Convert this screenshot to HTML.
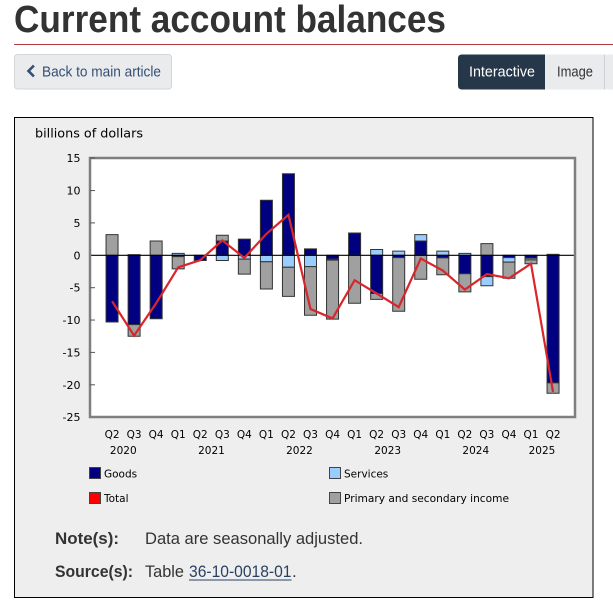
<!DOCTYPE html>
<html>
<head>
<meta charset="utf-8">
<style>
  html,body{margin:0;padding:0;background:#fff;width:613px;height:614px;overflow:hidden;}
  svg{display:block;}
</style>
</head>
<body>
<svg width="613" height="614" viewBox="0 0 613 614" xmlns="http://www.w3.org/2000/svg">
  <rect x="0" y="0" width="613" height="614" fill="#ffffff"/>

  <!-- Title -->
  <text x="14" y="32" font-family="Liberation Sans, sans-serif" font-weight="bold" font-size="38" fill="#333333" textLength="432" lengthAdjust="spacingAndGlyphs">Current account balances</text>
  <line x1="14" y1="44.5" x2="613" y2="44.5" stroke="#af3c43" stroke-width="1"/>

  <!-- Back button -->
  <rect x="14.5" y="54.5" width="157" height="34.5" rx="3" ry="3" fill="#eaebed" stroke="#d4d6d9" stroke-width="1"/>
  <polyline points="33,66.5 28.5,71 33,75.5" fill="none" stroke="#335075" stroke-width="2.6" stroke-linecap="square"/>
  <text x="42" y="76.5" font-family="Liberation Sans, sans-serif" font-size="15" fill="#335075" textLength="119" lengthAdjust="spacingAndGlyphs">Back to main article</text>

  <!-- Interactive / Image buttons -->
  <path d="M462,54.5 H545 V89.5 H462 Q458,89.5 458,85.5 V58.5 Q458,54.5 462,54.5 Z" fill="#26374a"/>
  <text x="469" y="76.5" font-family="Liberation Sans, sans-serif" font-size="15" fill="#ffffff" textLength="66" lengthAdjust="spacingAndGlyphs">Interactive</text>
  <rect x="545" y="54.5" width="59.5" height="35" fill="#eaebed"/>
  <text x="557" y="76.5" font-family="Liberation Sans, sans-serif" font-size="15" fill="#333333" textLength="36" lengthAdjust="spacingAndGlyphs">Image</text>
  <line x1="604.5" y1="54.5" x2="604.5" y2="89.5" stroke="#cfd1d4" stroke-width="1"/>
  <rect x="605" y="54.5" width="8" height="35" fill="#eaebed"/>

  <!-- Chart box -->
  <rect x="14.5" y="117.5" width="578.5" height="480" fill="#eeeeee" stroke="#000000" stroke-width="1"/>

  <text x="35" y="137.5" font-family="DejaVu Sans, Verdana, sans-serif" font-size="12.8" fill="#000" textLength="108" lengthAdjust="spacingAndGlyphs">billions of dollars</text>

  <!-- Plot area -->
  <rect x="90" y="158" width="485" height="259" fill="#ffffff"/>

  <!-- Bars: data coordinates -->
  <g transform="translate(0,255.3) scale(1,-6.475)" stroke="#333333" stroke-width="1">
    <!-- 0 Q2 2020 -->
    <rect x="106.05" y="-10.3" width="12" height="10.3" fill="#000080" vector-effect="non-scaling-stroke"/>
    <rect x="106.05" y="0" width="12" height="3.2" fill="#a0a0a0" vector-effect="non-scaling-stroke"/>
    <!-- 1 Q3 2020 -->
    <rect x="128.1" y="-10.7" width="12" height="10.7" fill="#000080" vector-effect="non-scaling-stroke"/>
    <rect x="128.1" y="0" width="12" height="0.1" fill="#99ccff" vector-effect="non-scaling-stroke"/>
    <rect x="128.1" y="-12.5" width="12" height="1.8" fill="#a0a0a0" vector-effect="non-scaling-stroke"/>
    <!-- 2 Q4 2020 -->
    <rect x="150.15" y="-9.8" width="12" height="9.8" fill="#000080" vector-effect="non-scaling-stroke"/>
    <rect x="150.15" y="0" width="12" height="2.2" fill="#a0a0a0" vector-effect="non-scaling-stroke"/>
    <!-- 3 Q1 2021 -->
    <rect x="172.2" y="-0.2" width="12" height="0.2" fill="#000080" vector-effect="non-scaling-stroke"/>
    <rect x="172.2" y="0" width="12" height="0.3" fill="#99ccff" vector-effect="non-scaling-stroke"/>
    <rect x="172.2" y="-2.1" width="12" height="1.9" fill="#a0a0a0" vector-effect="non-scaling-stroke"/>
    <!-- 4 Q2 2021 -->
    <rect x="194.25" y="-0.8" width="12" height="0.8" fill="#000080" vector-effect="non-scaling-stroke"/>
    <!-- 5 Q3 2021 -->
    <rect x="216.3" y="0" width="12" height="2.2" fill="#000080" vector-effect="non-scaling-stroke"/>
    <rect x="216.3" y="-0.8" width="12" height="0.8" fill="#99ccff" vector-effect="non-scaling-stroke"/>
    <rect x="216.3" y="2.2" width="12" height="0.9" fill="#a0a0a0" vector-effect="non-scaling-stroke"/>
    <!-- 6 Q4 2021 -->
    <rect x="238.35" y="0" width="12" height="2.5" fill="#000080" vector-effect="non-scaling-stroke"/>
    <rect x="238.35" y="-0.6" width="12" height="0.6" fill="#99ccff" vector-effect="non-scaling-stroke"/>
    <rect x="238.35" y="-2.9" width="12" height="2.3" fill="#a0a0a0" vector-effect="non-scaling-stroke"/>
    <!-- 7 Q1 2022 -->
    <rect x="260.4" y="0" width="12" height="8.5" fill="#000080" vector-effect="non-scaling-stroke"/>
    <rect x="260.4" y="-1" width="12" height="1" fill="#99ccff" vector-effect="non-scaling-stroke"/>
    <rect x="260.4" y="-5.2" width="12" height="4.2" fill="#a0a0a0" vector-effect="non-scaling-stroke"/>
    <!-- 8 Q2 2022 -->
    <rect x="282.45" y="0" width="12" height="12.6" fill="#000080" vector-effect="non-scaling-stroke"/>
    <rect x="282.45" y="-1.85" width="12" height="1.85" fill="#99ccff" vector-effect="non-scaling-stroke"/>
    <rect x="282.45" y="-6.35" width="12" height="4.5" fill="#a0a0a0" vector-effect="non-scaling-stroke"/>
    <!-- 9 Q3 2022 -->
    <rect x="304.5" y="0" width="12" height="1" fill="#000080" vector-effect="non-scaling-stroke"/>
    <rect x="304.5" y="-1.75" width="12" height="1.75" fill="#99ccff" vector-effect="non-scaling-stroke"/>
    <rect x="304.5" y="-9.25" width="12" height="7.5" fill="#a0a0a0" vector-effect="non-scaling-stroke"/>
    <!-- 10 Q4 2022 -->
    <rect x="326.55" y="-0.6" width="12" height="0.6" fill="#000080" vector-effect="non-scaling-stroke"/>
    <rect x="326.55" y="-0.75" width="12" height="0.15" fill="#99ccff" vector-effect="non-scaling-stroke"/>
    <rect x="326.55" y="-9.85" width="12" height="9.1" fill="#a0a0a0" vector-effect="non-scaling-stroke"/>
    <!-- 11 Q1 2023 -->
    <rect x="348.6" y="0" width="12" height="3.45" fill="#000080" vector-effect="non-scaling-stroke"/>
    <rect x="348.6" y="-7.4" width="12" height="7.4" fill="#a0a0a0" vector-effect="non-scaling-stroke"/>
    <!-- 12 Q2 2023 -->
    <rect x="370.65" y="-5.9" width="12" height="5.9" fill="#000080" vector-effect="non-scaling-stroke"/>
    <rect x="370.65" y="0" width="12" height="0.9" fill="#99ccff" vector-effect="non-scaling-stroke"/>
    <rect x="370.65" y="-6.8" width="12" height="0.9" fill="#a0a0a0" vector-effect="non-scaling-stroke"/>
    <!-- 13 Q3 2023 -->
    <rect x="392.7" y="-0.35" width="12" height="0.35" fill="#000080" vector-effect="non-scaling-stroke"/>
    <rect x="392.7" y="0" width="12" height="0.65" fill="#99ccff" vector-effect="non-scaling-stroke"/>
    <rect x="392.7" y="-8.65" width="12" height="8.3" fill="#a0a0a0" vector-effect="non-scaling-stroke"/>
    <!-- 14 Q4 2023 -->
    <rect x="414.75" y="0" width="12" height="2.2" fill="#000080" vector-effect="non-scaling-stroke"/>
    <rect x="414.75" y="2.2" width="12" height="1" fill="#99ccff" vector-effect="non-scaling-stroke"/>
    <rect x="414.75" y="-3.7" width="12" height="3.7" fill="#a0a0a0" vector-effect="non-scaling-stroke"/>
    <!-- 15 Q1 2024 -->
    <rect x="436.8" y="-0.4" width="12" height="0.4" fill="#000080" vector-effect="non-scaling-stroke"/>
    <rect x="436.8" y="0" width="12" height="0.65" fill="#99ccff" vector-effect="non-scaling-stroke"/>
    <rect x="436.8" y="-3.0" width="12" height="2.6" fill="#a0a0a0" vector-effect="non-scaling-stroke"/>
    <!-- 16 Q2 2024 -->
    <rect x="458.85" y="-2.85" width="12" height="2.85" fill="#000080" vector-effect="non-scaling-stroke"/>
    <rect x="458.85" y="0" width="12" height="0.3" fill="#99ccff" vector-effect="non-scaling-stroke"/>
    <rect x="458.85" y="-5.65" width="12" height="2.8" fill="#a0a0a0" vector-effect="non-scaling-stroke"/>
    <!-- 17 Q3 2024 -->
    <rect x="480.9" y="-3.3" width="12" height="3.3" fill="#000080" vector-effect="non-scaling-stroke"/>
    <rect x="480.9" y="-4.7" width="12" height="1.4" fill="#99ccff" vector-effect="non-scaling-stroke"/>
    <rect x="480.9" y="0" width="12" height="1.8" fill="#a0a0a0" vector-effect="non-scaling-stroke"/>
    <!-- 18 Q4 2024 -->
    <rect x="502.95" y="-0.35" width="12" height="0.35" fill="#000080" vector-effect="non-scaling-stroke"/>
    <rect x="502.95" y="-1.05" width="12" height="0.7" fill="#99ccff" vector-effect="non-scaling-stroke"/>
    <rect x="502.95" y="-3.55" width="12" height="2.5" fill="#a0a0a0" vector-effect="non-scaling-stroke"/>
    <!-- 19 Q1 2025 -->
    <rect x="525" y="-0.45" width="12" height="0.45" fill="#000080" vector-effect="non-scaling-stroke"/>
    <rect x="525" y="-0.7" width="12" height="0.25" fill="#99ccff" vector-effect="non-scaling-stroke"/>
    <rect x="525" y="-1.3" width="12" height="0.6" fill="#a0a0a0" vector-effect="non-scaling-stroke"/>
    <!-- 20 Q2 2025 -->
    <rect x="547.05" y="-19.7" width="12" height="19.7" fill="#000080" vector-effect="non-scaling-stroke"/>
    <rect x="547.05" y="0" width="12" height="0.15" fill="#99ccff" vector-effect="non-scaling-stroke"/>
    <rect x="547.05" y="-21.3" width="12" height="1.6" fill="#a0a0a0" vector-effect="non-scaling-stroke"/>
  </g>

  <!-- Zero line -->
  <line x1="90" y1="255.3" x2="575" y2="255.3" stroke="#000000" stroke-width="1.2"/>

  <!-- Total line -->
  <g transform="translate(0,255.3) scale(1,-6.475)">
    <polyline fill="none" stroke="#d9252c" stroke-width="2.2" stroke-linejoin="miter" vector-effect="non-scaling-stroke"
      points="112.05,-7.1 134.1,-12.4 156.15,-7.4 178.2,-1.85 200.25,-0.75 222.3,2.3 244.35,-0.4 266.4,3.3 288.45,6.25 310.5,-8.3 332.55,-9.75 354.6,-3.85 376.65,-5.9 398.7,-8.0 420.75,-0.5 442.8,-2.35 464.85,-5.3 486.9,-2.9 508.95,-3.55 531,-1.3 553.05,-21.1"/>
  </g>

  <!-- Plot border -->
  <rect x="90" y="158" width="485" height="259" fill="none" stroke="#7f7f7f" stroke-width="2.5"/>

  <!-- Y ticks -->
  <g stroke="#555555" stroke-width="1">
    <line x1="90" y1="158" x2="95" y2="158"/>
    <line x1="90" y1="190.55" x2="95" y2="190.55"/>
    <line x1="90" y1="222.9" x2="95" y2="222.9"/>
    <line x1="90" y1="287.7" x2="95" y2="287.7"/>
    <line x1="90" y1="320.05" x2="95" y2="320.05"/>
    <line x1="90" y1="352.4" x2="95" y2="352.4"/>
    <line x1="90" y1="384.8" x2="95" y2="384.8"/>
  </g>

  <!-- Y labels -->
  <g font-family="DejaVu Sans, Verdana, sans-serif" font-size="11" fill="#000" text-anchor="end">
    <text x="80.5" y="162">15</text>
    <text x="80.5" y="194.5">10</text>
    <text x="80.5" y="226.9">5</text>
    <text x="80.5" y="259.3">0</text>
    <text x="80.5" y="291.7">-5</text>
    <text x="80.5" y="324">-10</text>
    <text x="80.5" y="356.4">-15</text>
    <text x="80.5" y="388.8">-20</text>
    <text x="80.5" y="421.2">-25</text>
  </g>

  <!-- X labels -->
  <g font-family="DejaVu Sans, Verdana, sans-serif" font-size="10.5" fill="#000" text-anchor="middle">
    <text x="112.05" y="438">Q2</text>
    <text x="134.1" y="438">Q3</text>
    <text x="156.15" y="438">Q4</text>
    <text x="178.2" y="438">Q1</text>
    <text x="200.25" y="438">Q2</text>
    <text x="222.3" y="438">Q3</text>
    <text x="244.35" y="438">Q4</text>
    <text x="266.4" y="438">Q1</text>
    <text x="288.45" y="438">Q2</text>
    <text x="310.5" y="438">Q3</text>
    <text x="332.55" y="438">Q4</text>
    <text x="354.6" y="438">Q1</text>
    <text x="376.65" y="438">Q2</text>
    <text x="398.7" y="438">Q3</text>
    <text x="420.75" y="438">Q4</text>
    <text x="442.8" y="438">Q1</text>
    <text x="464.85" y="438">Q2</text>
    <text x="486.9" y="438">Q3</text>
    <text x="508.95" y="438">Q4</text>
    <text x="531" y="438">Q1</text>
    <text x="553.05" y="438">Q2</text>
    <text x="123.3" y="454">2020</text>
    <text x="211.5" y="454">2021</text>
    <text x="299.5" y="454">2022</text>
    <text x="387.7" y="454">2023</text>
    <text x="475.8" y="454">2024</text>
    <text x="542" y="454">2025</text>
  </g>

  <!-- Legend -->
  <rect x="89.5" y="467.5" width="11" height="11" fill="#000080" stroke="#444" stroke-width="1"/>
  <text x="104" y="477.5" font-family="DejaVu Sans, Verdana, sans-serif" font-size="10.5" fill="#000">Goods</text>
  <rect x="329.5" y="467.5" width="11" height="11" fill="#99ccff" stroke="#444" stroke-width="1"/>
  <text x="344" y="477.5" font-family="DejaVu Sans, Verdana, sans-serif" font-size="10.5" fill="#000">Services</text>
  <rect x="89.5" y="492.5" width="11" height="11" fill="#ff0000" stroke="#444" stroke-width="1"/>
  <text x="104" y="502" font-family="DejaVu Sans, Verdana, sans-serif" font-size="10.5" fill="#000">Total</text>
  <rect x="329.5" y="492.5" width="11" height="11" fill="#a0a0a0" stroke="#444" stroke-width="1"/>
  <text x="344" y="502" font-family="DejaVu Sans, Verdana, sans-serif" font-size="10.5" fill="#000" textLength="165" lengthAdjust="spacingAndGlyphs">Primary and secondary income</text>

  <!-- Notes -->
  <text x="55" y="544" font-family="Liberation Sans, sans-serif" font-weight="bold" font-size="17" fill="#333" textLength="64" lengthAdjust="spacingAndGlyphs">Note(s):</text>
  <text x="145" y="544" font-family="Liberation Sans, sans-serif" font-size="17" fill="#333" textLength="218" lengthAdjust="spacingAndGlyphs">Data are seasonally adjusted.</text>
  <text x="55" y="577" font-family="Liberation Sans, sans-serif" font-weight="bold" font-size="17" fill="#333" textLength="78" lengthAdjust="spacingAndGlyphs">Source(s):</text>
  <text x="145" y="577" font-family="Liberation Sans, sans-serif" font-size="17" fill="#333" textLength="39" lengthAdjust="spacingAndGlyphs">Table</text>
  <text x="189" y="577" font-family="Liberation Sans, sans-serif" font-size="17" fill="#284162" textLength="102.5" lengthAdjust="spacingAndGlyphs">36-10-0018-01</text>
  <line x1="189" y1="580" x2="291.5" y2="580" stroke="#284162" stroke-width="1"/>
  <text x="292" y="577" font-family="Liberation Sans, sans-serif" font-size="17" fill="#333">.</text>
</svg>
</body>
</html>
